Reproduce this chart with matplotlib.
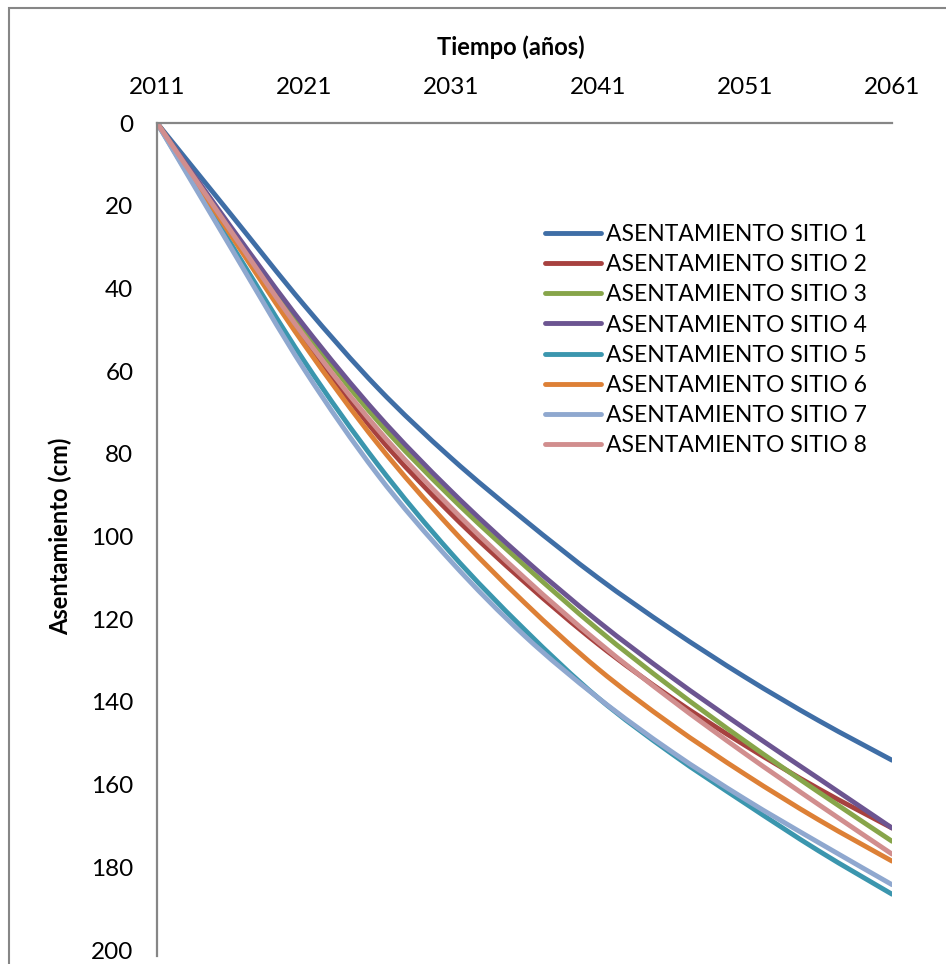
import numpy as np
import matplotlib.pyplot as plt
from matplotlib.path import Path
from matplotlib.patches import PathPatch
from matplotlib.lines import Line2D

# Datos (asentamiento en cm, cada 5 años)
years = [2011, 2016, 2021, 2026, 2031, 2036, 2041, 2046, 2051, 2056, 2061]
sitio1 = [0, 22.0, 44.0, 64.0, 81.0, 96.0, 110.0, 122.5, 134.0, 144.5, 154.1]
sitio2 = [0, 26.0, 52.0, 75.5, 94.5, 111.0, 126.0, 139.0, 150.5, 161.0, 170.5]
sitio3 = [0, 25.5, 50.0, 72.0, 90.5, 107.0, 122.5, 136.5, 149.5, 161.8, 173.7]
sitio4 = [0, 25.0, 49.0, 70.5, 89.0, 105.5, 120.5, 134.0, 146.5, 158.5, 170.5]
sitio5 = [0, 29.0, 57.5, 82.5, 104.0, 122.5, 139.0, 152.5, 164.5, 176.0, 186.5]
sitio6 = [0, 27.0, 53.5, 77.5, 98.0, 116.0, 132.0, 145.5, 157.5, 168.5, 178.5]
sitio7 = [0, 30.0, 59.5, 85.0, 106.0, 124.0, 139.0, 152.0, 163.5, 174.0, 184.2]
sitio8 = [0, 26.0, 51.5, 74.0, 93.0, 110.0, 125.5, 139.5, 152.5, 164.8, 176.8]

series = [sitio1, sitio2, sitio3, sitio4, sitio5, sitio6, sitio7, sitio8]
labels = ['ASENTAMIENTO SITIO %d' % i for i in range(1, 9)]
colors = ['#3F6EA6', '#A7413F', '#87A54A', '#6C5591',
          '#3B96AE', '#DD8036', '#8FA8CF', '#D18E8E']

xticks = [2011, 2021, 2031, 2041, 2051, 2061]
yticks = list(range(0, 201, 20))


def smooth_path(x, y):
    """Excel style smoothed line: bezier segments through the data points"""
    p = np.column_stack([x, y]).astype(float)
    ext = np.vstack([p[0], p, p[-1]])
    verts = [p[0]]
    codes = [Path.MOVETO]
    for i in range(len(p) - 1):
        c1 = ext[i + 1] + (ext[i + 2] - ext[i]) / 6.0
        c2 = ext[i + 2] - (ext[i + 3] - ext[i + 1]) / 6.0
        verts += [c1, c2, p[i + 1]]
        codes += [Path.CURVE4] * 3
    return Path(verts, codes)


plt.rcParams['font.family'] = ['Lato', 'DejaVu Sans']

W, H = 946, 964
fig = plt.figure(figsize=(W / 100, H / 100), dpi=100)

# plot area in pixels
left, right, top, bottom = 157, 892, 123, 950
ax = fig.add_axes([left / W, 1 - bottom / H, (right - left) / W, (bottom - top) / H])

handles = []
for s, lab, c in zip(series, labels, colors):
    ax.add_patch(PathPatch(smooth_path(years, s), fill=False, edgecolor=c,
                           lw=3.5, capstyle='round', joinstyle='round'))
    handles.append(Line2D([], [], color=c, lw=3.5, solid_capstyle='round'))

ax.set_xlim(2011, 2061)
ax.set_ylim(200, 0)
ax.set_xticks(xticks)
ax.set_yticks(yticks)
ax.xaxis.tick_top()
ax.tick_params(axis='both', length=0, labelsize=17.5, colors='black')
ax.tick_params(axis='x', pad=18)
ax.tick_params(axis='y', pad=17)

for side in ['right', 'bottom']:
    ax.spines[side].set_visible(False)
for side in ['left', 'top']:
    ax.spines[side].set_color('#868686')
    ax.spines[side].set_linewidth(1.6)
ax.spines['left'].set_bounds(0, 201.5)

ax.set_ylabel('Asentamiento (cm)', fontsize=17, fontweight='bold')
ax.yaxis.set_label_coords((72 - left) / (right - left), 0.5)
fig.text(511 / W, 1 - 47 / H, 'Tiempo (años)', fontsize=17, fontweight='bold',
         ha='center', va='center')

ax.legend(handles, labels, loc='upper left', bbox_to_anchor=(545 / W, 1 - 224 / H),
          bbox_transform=fig.transFigure, frameon=False, fontsize=16.5,
          handlelength=2.45, handletextpad=0.2, labelspacing=0.4,
          borderpad=0, borderaxespad=0)

# chart area border
fig.patches.append(plt.Rectangle((9 / W, -0.1), 1.2, 1 - 7.5 / H + 0.1,
                                 transform=fig.transFigure, fill=False,
                                 edgecolor='#868686', lw=1.5))

fig.savefig('out.png', dpi=100)
